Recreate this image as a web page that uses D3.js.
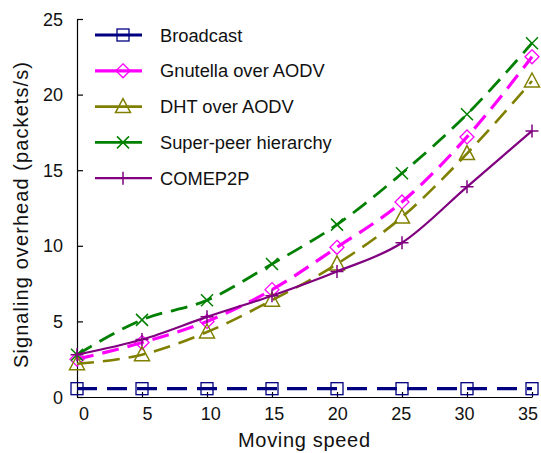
<!DOCTYPE html>
<html><head><meta charset="utf-8">
<script src="https://cdn.jsdelivr.net/npm/d3@7"></script>
<style>body{margin:0;background:#fff}svg{display:block;font-family:"Liberation Sans",Arial,sans-serif}</style>
</head><body><svg id="c" width="541" height="453"></svg>
<script>
const speeds = [0, 5, 10, 15, 20, 25, 30, 35];
const broadcast = [0.55, 0.55, 0.55, 0.55, 0.55, 0.55, 0.55, 0.55];
const gnutella = [2.5, 3.6, 5.0, 7.1, 9.9, 12.9, 17.2, 22.5];
const dht = [2.2, 2.8, 4.3, 6.4, 8.8, 11.9, 16.1, 20.9];
const superPeer = [2.8, 5.1, 6.4, 8.8, 11.4, 14.8, 18.7, 23.4];
const comep2p = [2.8, 3.8, 5.3, 6.7, 8.3, 10.2, 13.9, 17.6];
const xTicks = [0, 5, 10, 15, 20, 25, 30, 35];
const yTicks = [0, 5, 10, 15, 20, 25];
const seriesNames = ["Broadcast", "Gnutella over AODV", "DHT over AODV", "Super-peer hierarchy", "COMEP2P"];

const series = [
  {name: seriesNames[0], values: broadcast, color: "#000080", dash: "20,10", width: 3.2, marker: "square"},
  {name: seriesNames[1], values: gnutella, color: "#ff00ff", dash: "17,9", width: 3.2, marker: "diamond"},
  {name: seriesNames[2], values: dht, color: "#808000", dash: "17,9", width: 2.6, marker: "triangle"},
  {name: seriesNames[3], values: superPeer, color: "#008000", dash: "17,9", width: 2.8, marker: "cross"},
  {name: seriesNames[4], values: comep2p, color: "#800080", dash: null, width: 2.2, marker: "plus"}
];

const svg = d3.select("#c");
const x = d3.scaleLinear().domain([0, 35]).range([77, 532]);
const y = d3.scaleLinear().domain([0, 25]).range([397, 19]);
const xLab = d3.scaleLinear().domain([0, 35]).range([84, 528]);

// axes
const gx = svg.append("g").attr("transform", "translate(0,397)")
  .call(d3.axisBottom(x).tickValues(xTicks).tickSize(-5).tickSizeOuter(0).tickFormat(""));
const gy = svg.append("g").attr("transform", "translate(77,0)")
  .call(d3.axisLeft(y).tickValues(yTicks).tickSize(-6).tickSizeOuter(0).tickFormat(""));
[gx, gy].forEach(g => { g.selectAll("path,line").attr("stroke", "#000").attr("stroke-width", 1.2); });

svg.append("g").selectAll("text").data(xTicks).join("text")
  .attr("x", d => xLab(d)).attr("y", 420).attr("text-anchor", "middle")
  .attr("font-size", 18).attr("fill", "#111").text(d => d);
svg.append("g").selectAll("text").data(yTicks).join("text")
  .attr("x", 63).attr("y", d => y(d) + 6.5).attr("text-anchor", "end")
  .attr("font-size", 18).attr("fill", "#111").text(d => d);

svg.append("text").attr("x", 238).attr("y", 447)
  .attr("font-size", 20).attr("fill", "#111")
  .attr("textLength", 132).attr("lengthAdjust", "spacing").text("Moving speed");
svg.append("text").attr("transform", "translate(28,368) rotate(-90)")
  .attr("font-size", 20).attr("fill", "#111")
  .attr("textLength", 306).attr("lengthAdjust", "spacing").text("Signaling overhead (packets/s)");

function drawMarker(g, type, cx, cy, color) {
  const s = 6;
  if (type === "square") {
    g.append("rect").attr("x", cx - s).attr("y", cy - s).attr("width", 2 * s).attr("height", 2 * s)
      .attr("fill", "none").attr("stroke", color).attr("stroke-width", 1.3);
  } else if (type === "diamond") {
    g.append("path").attr("d", `M${cx},${cy - 7}L${cx + 7},${cy}L${cx},${cy + 7}L${cx - 7},${cy}Z`)
      .attr("fill", "none").attr("stroke", color).attr("stroke-width", 1.3);
  } else if (type === "triangle") {
    g.append("path").attr("d", `M${cx},${cy - 8}L${cx + 7.5},${cy + 6}L${cx - 7.5},${cy + 6}Z`)
      .attr("fill", "none").attr("stroke", color).attr("stroke-width", 1.5);
  } else if (type === "cross") {
    g.append("path").attr("d", `M${cx - 6},${cy - 6}L${cx + 6},${cy + 6}M${cx - 6},${cy + 6}L${cx + 6},${cy - 6}`)
      .attr("stroke", color).attr("stroke-width", 1.5);
  } else if (type === "plus") {
    g.append("path").attr("d", `M${cx - 6.5},${cy}L${cx + 6.5},${cy}M${cx},${cy - 6.5}L${cx},${cy + 6.5}`)
      .attr("stroke", color).attr("stroke-width", 1.5);
  }
}

const line = d3.line().x((d, i) => x(speeds[i])).y(d => y(d)).curve(d3.curveMonotoneX);
const plot = svg.append("g");
series.forEach(s => {
  plot.append("path").datum(s.values).attr("d", line).attr("fill", "none")
    .attr("stroke", s.color).attr("stroke-width", s.width)
    .attr("stroke-dasharray", s.dash);
  const mg = plot.append("g");
  s.values.forEach((v, i) => drawMarker(mg, s.marker, x(speeds[i]), y(v), s.color));
});

// legend
const leg = svg.append("g");
series.forEach((s, i) => {
  const ly = 35 + i * 35.8;
  const x2 = s.marker === "plus" ? 152 : 142;
  leg.append("line").attr("x1", 95).attr("x2", x2).attr("y1", ly).attr("y2", ly)
    .attr("stroke", s.color).attr("stroke-width", s.width);
  drawMarker(leg, s.marker, 123, ly, s.color);
  leg.append("text").attr("x", 160).attr("y", ly + 6.5).attr("font-size", 18.3)
    .attr("fill", "#111").text(s.name);
});
</script></body></html>
